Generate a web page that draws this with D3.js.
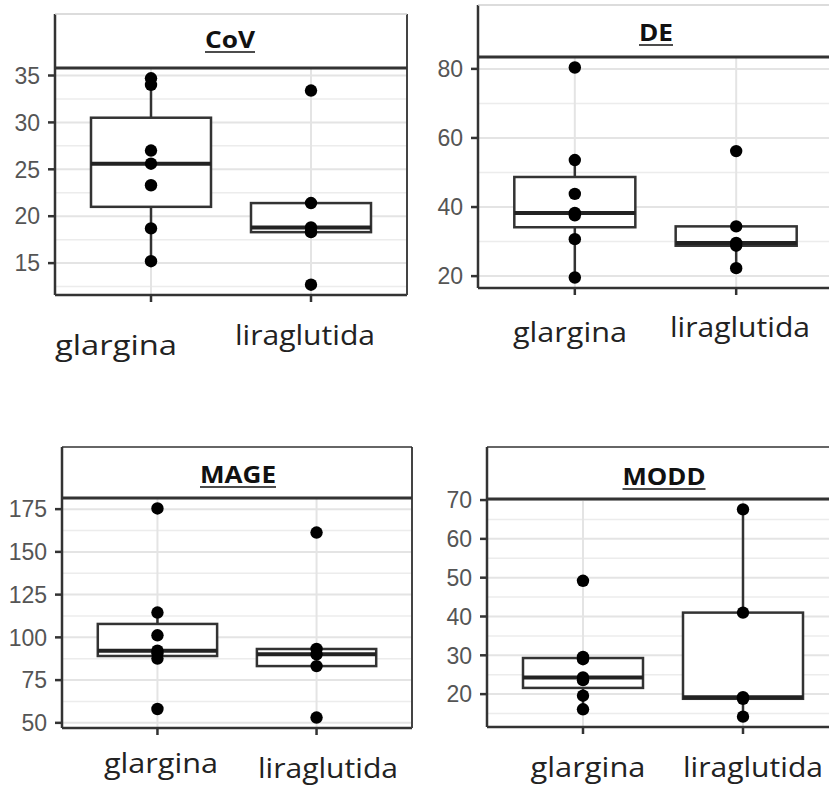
<!DOCTYPE html>
<html>
<head>
<meta charset="utf-8">
<script src="https://cdn.jsdelivr.net/npm/d3@7"></script>
<style>
  body { margin: 0; background: #fff; }
  svg { display: block; }
</style>
</head>
<body>
<div id="chart"></div>
<script>
// categories and values
var groups = ["glargina", "liraglutida"];
var metrics = ["CoV", "DE", "MAGE", "MODD"];

var covGlargina    = [34.7, 34.0, 27.0, 25.6, 23.3, 18.7, 15.2];
var covLiraglutida = [33.4, 21.4, 18.8, 18.3, 12.7];
var deGlargina     = [80.4, 53.6, 43.8, 38.3, 37.6, 30.7, 19.6];
var deLiraglutida  = [56.2, 34.4, 29.6, 28.8, 22.3];
var mageGlargina   = [175.4, 114.5, 101.2, 92.2, 90.6, 87.6, 58.1];
var mageLiraglutida = [161.3, 93.2, 90.1, 83.2, 53.1];
var moddGlargina   = [49.2, 29.6, 29.0, 24.3, 23.6, 19.6, 16.1];
var moddLiraglutida = [67.6, 41.0, 19.2, 18.8, 14.2];

var covTicks  = [15, 20, 25, 30, 35];
var deTicks   = [20, 40, 60, 80];
var mageTicks = [50, 75, 100, 125, 150, 175];
var moddTicks = [20, 30, 40, 50, 60, 70];

var seriesByMetric = {
  CoV:  [covGlargina, covLiraglutida],
  DE:   [deGlargina, deLiraglutida],
  MAGE: [mageGlargina, mageLiraglutida],
  MODD: [moddGlargina, moddLiraglutida]
};
var ticksByMetric = { CoV: covTicks, DE: deTicks, MAGE: mageTicks, MODD: moddTicks };

// where each panel sits in the composite picture
var layout = {
  CoV:  { left: 55,  right: 407, stripTop: 14,  top: 68,  bottom: 295, stripTopColor: "#d0d0d0",
          title: { x: 230, y: 48, w: 50 },
          labels: [{ x: 116, y: 355, w: 122 }, { x: 305, y: 345, w: 140 }] },
  DE:   { left: 478, right: 833, stripTop: 5,   top: 57,  bottom: 288, stripTopColor: "#d0d0d0",
          title: { x: 656, y: 41, w: 34 },
          labels: [{ x: 570, y: 342, w: 114 }, { x: 740, y: 337, w: 140 }] },
  MAGE: { left: 62,  right: 412, stripTop: 447, top: 498, bottom: 728, stripTopColor: "#333",
          title: { x: 238, y: 483, w: 76 },
          labels: [{ x: 161, y: 773, w: 114 }, { x: 328, y: 778, w: 140 }] },
  MODD: { left: 487, right: 839, stripTop: 447, top: 499, bottom: 727, stripTopColor: "#333",
          title: { x: 664, y: 485, w: 83 },
          labels: [{ x: 588, y: 777, w: 115 }, { x: 753, y: 777, w: 140 }] }
};

var width = 829, height = 788;

var svg = d3.select("#chart")
  .append("svg")
  .attr("width", width)
  .attr("height", height);

function boxStats(values) {
  var s = values.slice().sort(d3.ascending);
  var q1 = d3.quantile(s, 0.25), med = d3.quantile(s, 0.5), q3 = d3.quantile(s, 0.75);
  var iqr = q3 - q1;
  var lo = d3.min(s.filter(function(v){ return v >= q1 - 1.5 * iqr; }));
  var hi = d3.max(s.filter(function(v){ return v <= q3 + 1.5 * iqr; }));
  return { q1: q1, med: med, q3: q3, lo: lo, hi: hi };
}

metrics.forEach(function(m){
  var L = layout[m];
  var series = seriesByMetric[m];
  var ticks = ticksByMetric[m];
  var all = d3.merge(series);
  var ext = d3.extent(all);
  var pad = (ext[1] - ext[0]) * 0.05;

  var y = d3.scaleLinear()
    .domain([ext[0] - pad, ext[1] + pad])
    .range([L.bottom, L.top]);

  var x = d3.scalePoint()
    .domain(groups)
    .range([L.left, L.right])
    .padding(0.6);

  var g = svg.append("g");

  // minor grid
  var step = ticks[1] - ticks[0];
  var minor = [];
  for (var i = -1; i < ticks.length; i++) {
    var v = ticks[0] + step * (i + 0.5);
    if (v > y.domain()[0] && v < y.domain()[1]) minor.push(v);
  }
  g.selectAll(".minor")
    .data(minor)
    .enter()
    .append("line")
    .attr("x1", L.left).attr("x2", L.right)
    .attr("y1", function(d){ return y(d); })
    .attr("y2", function(d){ return y(d); })
    .attr("stroke", "#ececec")
    .attr("stroke-width", 1.5);

  // major grid
  g.selectAll(".major")
    .data(ticks)
    .enter()
    .append("line")
    .attr("x1", L.left).attr("x2", L.right)
    .attr("y1", function(d){ return y(d); })
    .attr("y2", function(d){ return y(d); })
    .attr("stroke", "#e4e4e4")
    .attr("stroke-width", 2);

  g.selectAll(".vgrid")
    .data(groups)
    .enter()
    .append("line")
    .attr("x1", function(d){ return x(d); })
    .attr("x2", function(d){ return x(d); })
    .attr("y1", L.top).attr("y2", L.bottom)
    .attr("stroke", "#e4e4e4")
    .attr("stroke-width", 2);

  // boxplots
  var bw = x.step() * 0.75;
  groups.forEach(function(grp, gi){
    var st = boxStats(series[gi]);
    var cx = x(grp);
    g.append("line")
      .attr("x1", cx).attr("x2", cx)
      .attr("y1", y(st.q3)).attr("y2", y(st.hi))
      .attr("stroke", "#333").attr("stroke-width", 2.5);
    g.append("line")
      .attr("x1", cx).attr("x2", cx)
      .attr("y1", y(st.q1)).attr("y2", y(st.lo))
      .attr("stroke", "#333").attr("stroke-width", 2.5);
    g.append("rect")
      .attr("x", cx - bw / 2)
      .attr("y", y(st.q3))
      .attr("width", bw)
      .attr("height", y(st.q1) - y(st.q3))
      .attr("fill", "#fff")
      .attr("stroke", "#333")
      .attr("stroke-width", 2.5);
    g.append("line")
      .attr("x1", cx - bw / 2).attr("x2", cx + bw / 2)
      .attr("y1", y(st.med)).attr("y2", y(st.med))
      .attr("stroke", "#222").attr("stroke-width", 4);

    g.selectAll(".pt" + gi)
      .data(series[gi])
      .enter()
      .append("circle")
      .attr("cx", cx)
      .attr("cy", function(d){ return y(d); })
      .attr("r", 6.2)
      .attr("fill", "#000");
  });

  // panel frame
  g.append("line")
    .attr("x1", L.left).attr("x2", L.right)
    .attr("y1", L.bottom).attr("y2", L.bottom)
    .attr("stroke", "#333").attr("stroke-width", 2.5);
  g.append("line")
    .attr("x1", L.right).attr("x2", L.right)
    .attr("y1", L.stripTop).attr("y2", L.bottom)
    .attr("stroke", "#444").attr("stroke-width", 2);
  g.append("line")
    .attr("x1", L.left).attr("x2", L.left)
    .attr("y1", L.stripTop).attr("y2", L.bottom)
    .attr("stroke", "#333").attr("stroke-width", 2.5);

  // strip
  g.append("line")
    .attr("x1", L.left).attr("x2", L.right)
    .attr("y1", L.stripTop).attr("y2", L.stripTop)
    .attr("stroke", L.stripTopColor).attr("stroke-width", 1.5);
  g.append("line")
    .attr("x1", L.left).attr("x2", L.right)
    .attr("y1", L.top).attr("y2", L.top)
    .attr("stroke", "#333").attr("stroke-width", 3);

  g.append("text")
    .attr("x", L.title.x)
    .attr("y", L.title.y)
    .attr("text-anchor", "middle")
    .attr("textLength", L.title.w)
    .attr("lengthAdjust", "spacingAndGlyphs")
    .style("font-family", "'Open Sans', sans-serif")
    .style("font-weight", "bold")
    .style("font-size", "23px")
    .attr("fill", "#111")
    .text(m);
  g.append("line")
    .attr("x1", L.title.x - L.title.w / 2).attr("x2", L.title.x + L.title.w / 2)
    .attr("y1", L.title.y + 4).attr("y2", L.title.y + 4)
    .attr("stroke", "#111").attr("stroke-width", 1.5);

  // y axis ticks and labels
  g.selectAll(".ytick")
    .data(ticks)
    .enter()
    .append("line")
    .attr("x1", L.left - 7).attr("x2", L.left)
    .attr("y1", function(d){ return y(d); })
    .attr("y2", function(d){ return y(d); })
    .attr("stroke", "#333").attr("stroke-width", 2.5);
  g.selectAll(".ylab")
    .data(ticks)
    .enter()
    .append("text")
    .attr("x", L.left - 15)
    .attr("y", function(d){ return y(d); })
    .attr("dy", "0.36em")
    .attr("text-anchor", "end")
    .style("font-family", "'Liberation Sans', Arial, sans-serif")
    .style("font-size", "23px")
    .attr("fill", "#555")
    .text(function(d){ return d; });

  // x axis ticks and labels
  g.selectAll(".xtick")
    .data(groups)
    .enter()
    .append("line")
    .attr("x1", function(d){ return x(d); })
    .attr("x2", function(d){ return x(d); })
    .attr("y1", L.bottom).attr("y2", L.bottom + 7)
    .attr("stroke", "#333").attr("stroke-width", 2.5);
  g.selectAll(".xlab")
    .data(groups)
    .enter()
    .append("text")
    .attr("x", function(d, i){ return L.labels[i].x; })
    .attr("y", function(d, i){ return L.labels[i].y; })
    .attr("text-anchor", "middle")
    .attr("textLength", function(d, i){ return L.labels[i].w; })
    .attr("lengthAdjust", "spacingAndGlyphs")
    .style("font-family", "'Open Sans', sans-serif")
    .style("font-size", "27px")
    .attr("fill", "#222")
    .text(function(d){ return d; });
});
</script>
</body>
</html>
